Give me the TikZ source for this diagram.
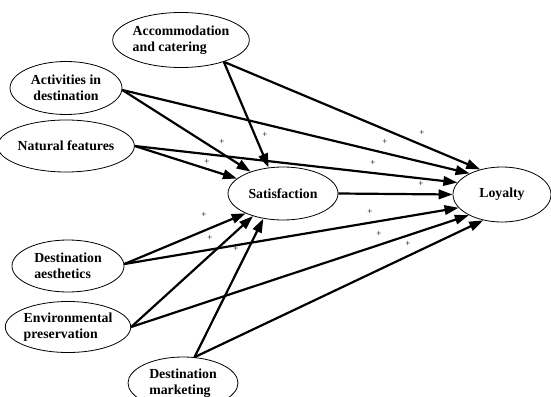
\documentclass[tikz,border=0pt]{standalone}
\usepackage{fontspec}
\setmainfont{Liberation Serif}
\usetikzlibrary{shapes.geometric,arrows.meta}
\begin{document}
\begin{tikzpicture}[x=1pt,y=-1pt,
  construct/.style={ellipse,draw,line width=0.8pt,inner sep=0pt,
    font=\fontsize{13.8}{16.5}\selectfont\bfseries,align=left},
  path/.style={line width=2.2pt,-{Triangle[length=14pt,width=9.5pt]}},
  plus/.style={font=\fontsize{9}{9}\selectfont,inner sep=0pt}]
\useasboundingbox (0,0) rectangle (551,396);
\begin{scope}
\clip (0,0) rectangle (551,396);
\node[construct,minimum width=112pt,minimum height=55pt] (acc) at (181,40) {Accommodation\\and catering};
\node[construct,align=center,minimum width=112pt,minimum height=53pt] (act) at (66,88) {Activities in\\destination};
\node[construct,minimum width=112pt,minimum height=52pt] (nat) at (66,146) {Natural features};
\node[construct,minimum width=110pt,minimum height=53pt] (sat) at (283,193.5) {Satisfaction};
\node[construct,minimum width=98pt,minimum height=55pt] (loy) at (502,194.5) {Loyalty};
\node[construct,minimum width=112pt,minimum height=52pt] (aes) at (68,266) {Destination\\aesthetics};
\node[construct,minimum width=112pt,minimum height=51pt] (env) at (68,327) {Environmental\\preservation};
\node[construct,minimum width=110pt,minimum height=52pt] (mkt) at (183,383) {Destination\\marketing};
\end{scope}
% paths to satisfaction
\draw[path] (acc.333) -- (sat.119);
\draw[path] (act.358) -- (sat.146);
\draw[path] (nat.east) -- (sat.162);
\draw[path] (aes.2) -- (sat.208);
\draw[path] (env.east) -- (sat.217);
\draw[path] (mkt.66) -- (sat.232);
% paths to loyalty
\draw[path] (acc.333) -- (loy.131);
\draw[path] (act.358) -- (loy.147);
\draw[path] (nat.east) -- (loy.165);
\draw[path] (sat.east) -- (loy.west);
\draw[path] (aes.2) -- (loy.197);
\draw[path] (env.east) -- (loy.212);
\draw[path] (mkt.66) -- (loy.234);
% plus signs
\node[plus] (p1) at (222,142) {+};
\node[plus] (p2) at (207,162) {+};
\node[plus] (p3) at (265,135) {+};
\node[plus] (p4) at (422,133) {+};
\node[plus] (p5) at (385,142) {+};
\node[plus] (p6) at (373,163) {+};
\node[plus] (p7) at (421,184) {+};
\node[plus] (p8) at (204,215) {+};
\node[plus] (p9) at (210,238) {+};
\node[plus] (p10) at (236,249) {+};
\node[plus] (p11) at (370,212) {+};
\node[plus] (p12) at (379,234) {+};
\node[plus] (p13) at (408,244) {+};
\end{tikzpicture}
\end{document}
